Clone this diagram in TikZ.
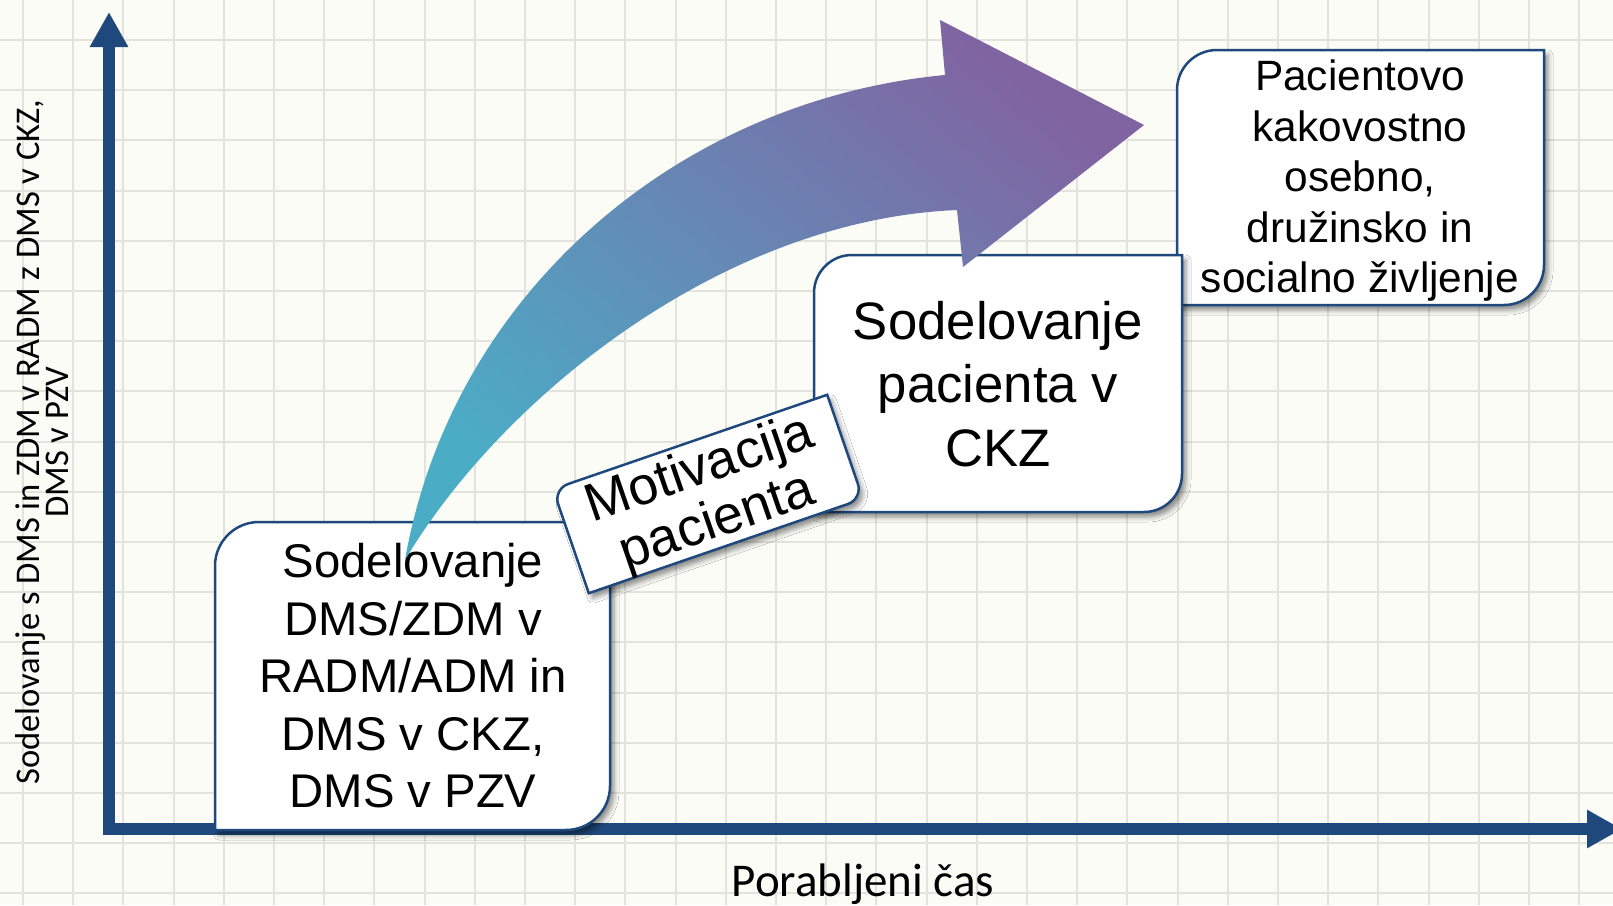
\documentclass[tikz,border=0pt]{standalone}
\usepackage{fontspec}
\setmainfont{Liberation Sans}
\newfontfamily\calib{Carlito}
\usetikzlibrary{arrows.meta,calc,shadows.blur}
\definecolor{axisblue}{RGB}{31,73,125}
\definecolor{arrteal}{RGB}{75,172,198}
\definecolor{arrpurple}{RGB}{128,100,162}
\definecolor{bgcol}{RGB}{251,252,246}
\definecolor{gridcol}{RGB}{226,227,221}
\newcommand{\tightlines}{\setlength{\lineskiplimit}{-50pt}}
\tikzset{
  gridline/.style={draw=gridcol, line width=2pt},
  axisline/.style={draw=axisblue, line width=12pt, line join=miter},
  boxshape/.style={fill=white, draw=axisblue, line width=2.5pt,
    blur shadow={shadow xshift=4pt, shadow yshift=-5pt, shadow blur radius=5pt, shadow opacity=45}},
  boxtext/.style={align=center, inner sep=0pt, text=black},
}
\newcommand{\twocornerbox}[5]{%
  \path[boxshape] (#1,#4) -- (#1,{#2+#5})
    .. controls (#1,{#2+0.448*#5}) and ({#1+0.448*#5},#2) .. ({#1+#5},#2)
    -- (#3,#2) -- (#3,{#4-#5})
    .. controls (#3,{#4-0.448*#5}) and ({#3-0.448*#5},#4) .. ({#3-#5},#4)
    -- cycle;}
\begin{document}
\begin{tikzpicture}[x=1pt,y=-1pt]
\useasboundingbox (0,0) rectangle (1613,905);
\fill[bgcol] (0,0) rectangle (1613,905);
% grid
\foreach \i in {0,...,32} \draw[gridline] ({23+50.2*\i},0) -- ({23+50.2*\i},905);
\foreach \j in {0,...,17} \draw[gridline] (0,{40+50.2*\j}) -- (1613,{40+50.2*\j});
% axes
\coordinate (O) at (109,829);
\coordinate (ytip) at (109,12);
\coordinate (xtip) at (1622,829);
\draw[axisline, {Triangle[length=35pt,width=36pt]}-{Triangle[length=35pt,width=36pt]}] (ytip) -- (O) -- (xtip);
% axis labels
\node[font=\calib\fontsize{34.6}{28.5}\selectfont\tightlines, align=center, rotate=90, inner sep=0pt] (ylab) at (42,442)
  {Sodelovanje s DMS in ZDM v RADM z DMS v CKZ,\\DMS v PZV};
\node[font=\calib\fontsize{47}{56}\selectfont, anchor=base, inner sep=0pt] (xlab) at (863,896) {Porabljeni čas};
% box 3
\twocornerbox{1177}{50}{1544}{305}{40}
\node[boxtext, font=\fontsize{42.4}{50.5}\selectfont] (b3) at (1360,181)
  {Pacientovo\\kakovostno\\osebno,\\družinsko in\\socialno življenje};
% box 2
\twocornerbox{814}{255}{1182}{512}{38}
\node[boxtext, font=\fontsize{52.7}{63.5}\selectfont] (b2) at (998,384)
  {Sodelovanje\\pacienta v\\CKZ};
% box 1
\twocornerbox{215}{522}{610}{830}{44}
\node[boxtext, font=\fontsize{47.3}{57.5}\selectfont] (b1) at (413,676)
  {Sodelovanje\\DMS/ZDM v\\RADM/ADM in\\DMS v CKZ,\\DMS v PZV};
% big curved arrow
\shade[top color=arrpurple, bottom color=arrteal, shading angle=-40]
  (405,560) .. controls (452,292) and (680,100) .. (945,75)
  -- (940,20) -- (1144,125) -- (963,267) -- (957,210)
  .. controls (720,220) and (500,400) .. (405,560) -- cycle;
% motivation box
\begin{scope}[shift={(708,494)}, rotate=19]
  \twocornerbox{-145}{-55}{145}{55}{16}
\end{scope}
\node[boxtext, rotate=19, font=\fontsize{53.5}{55}\selectfont] (mot) at (709,497) {Motivacija\\pacienta};
\end{tikzpicture}
\end{document}
